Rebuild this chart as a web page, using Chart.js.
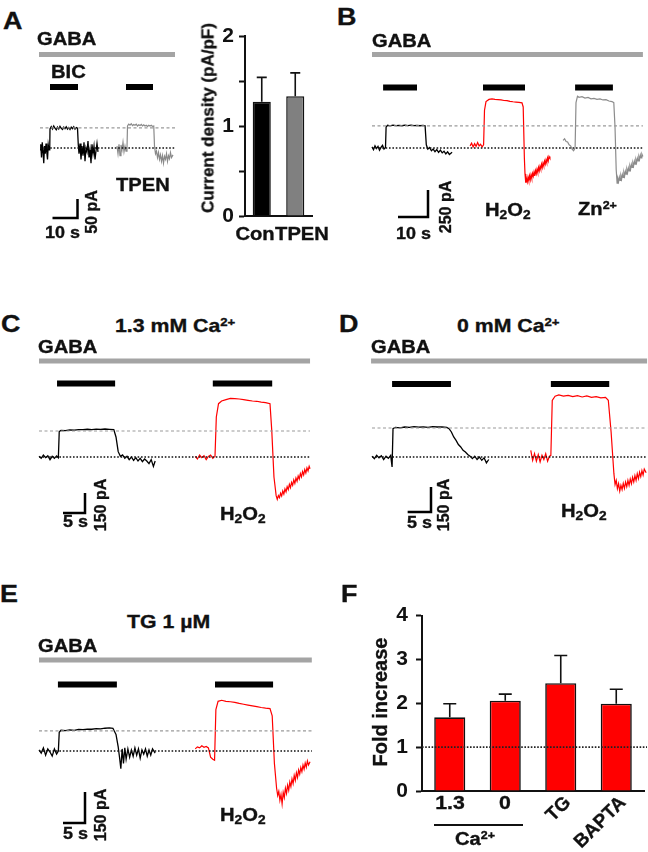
<!DOCTYPE html>
<html><head><meta charset="utf-8">
<script src="https://cdn.jsdelivr.net/npm/chart.js@4.4.1/dist/chart.umd.min.js"></script>
<style>
html,body{margin:0;padding:0;}
body{width:648px;height:852px;position:relative;background:#fff;overflow:hidden;font-family:"Liberation Sans",Arial,sans-serif;font-weight:bold;color:#111;}
canvas{position:absolute;}
.t{position:absolute;white-space:nowrap;line-height:1;color:#111;-webkit-text-stroke:0.35px #111;}
.t sub{font-size:0.68em;vertical-align:-0.28em;line-height:0;}
.t sup{font-size:0.62em;vertical-align:0.55em;line-height:0;}
.hl{position:absolute;background:#111;}
</style></head><body>
<script>
// ================= DATA =================
// Traces: [time (s), current (pA)], baseline = 0
const traceA_con = [[0,-5],[0.3,10],[0.6,-25],[0.9,15],[1.2,-8],[1.5,-40],[1.8,5],[2.1,-15],[2.4,12],[2.7,-10],[3.0,-30],[3.3,8],[3.6,-5],[3.9,0],[4.0,50],[4.5,56],[5,50],[5.5,58],[6,52],[6.5,48],[7,55],[7.5,50],[8,57],[8.5,52],[9,49],[9.5,55],[10,51],[10.5,56],[11,50],[11.5,54],[12,49],[12.5,55],[13,51],[13.5,56],[14,50],[14.5,54],[15,52],[15.3,10],[15.6,-15],[16,12],[16.4,-30],[16.8,5],[17.2,-20],[17.6,15],[18,-35],[18.4,0],[18.8,-10],[19.2,18],[19.6,-25],[20,-5],[20.4,-40],[20.8,10],[21.2,-15],[21.6,5],[22,-30],[22.4,-8],[22.8,12],[23.2,-10]];
const traceA_tpen = [[30.8,5],[31.2,-15],[31.6,10],[32,-20],[32.4,8],[32.8,-5],[33.2,15],[33.6,-10],[34,5],[34.4,-8],[34.8,0],[35,58],[35.5,63],[36,60],[36.5,64],[37,59],[37.5,62],[38,60],[38.5,63],[39,58],[39.5,61],[40,59],[40.5,62],[41,58],[41.5,61],[42,58],[42.5,60],[43,57],[43.5,60],[44,58],[44.5,60],[45,57],[45.5,58],[45.8,5],[46.2,-15],[46.6,-8],[47,-25],[47.4,-12],[47.8,-30],[48.2,-18],[48.6,-35],[49,-20],[49.4,-40],[49.8,-22],[50.2,-30],[50.6,-15],[51,-35],[51.4,-20],[51.8,-28],[52.2,-12],[52.6,-25],[53.2,-18]];
const gabaA = [-0.4, 54];
const bicA = [[4, 15.2], [34.4, 45.2]];
const refA = 53;
const scaleBarA = [10, 50];

const traceB_con = [[0,10],[0.5,-15],[1,20],[1.5,-5],[2,15],[2.5,-20],[3,5],[3.5,25],[4,-10],[4.5,5],[4.7,195],[5.2,210],[6,205],[7,212],[8,207],[9,210],[10,206],[11,211],[12,208],[13,212],[14,207],[15,210],[16,206],[17,209],[17.7,205],[18.1,30],[18.6,-10],[19.2,5],[19.8,-25],[20.4,-10],[21,-35],[21.6,-15],[22.2,-40],[22.8,-20],[23.4,-45],[24,-30],[24.6,-55],[25.2,-35],[25.8,-60],[26.7,-40]];
const traceB_h2o2 = [[32.7,20],[33.2,45],[33.7,10],[34.2,40],[34.7,15],[35.2,50],[35.7,20],[36.2,35],[36.7,10],[37.2,30],[37.5,350],[38,430],[39,450],[40,455],[41,450],[42,448],[43,445],[44,440],[45,438],[46,432],[47,428],[48,425],[49,422],[50,418],[50.4,380],[50.8,-100],[51.0,-240],[51.25,-322],[51.5,-285],[51.75,-315],[52.0,-270],[52.25,-302],[52.5,-258],[52.75,-295],[53.0,-248],[53.25,-280],[53.5,-236],[53.75,-262],[54.0,-222],[54.25,-258],[54.5,-210],[54.75,-238],[55.0,-196],[55.25,-225],[55.5,-180],[55.75,-212],[56.0,-170],[56.25,-195],[56.5,-150],[56.75,-182],[57.0,-140],[57.25,-165],[57.5,-122],[57.75,-150],[58.0,-110],[58.25,-135],[58.5,-92],[58.75,-120],[59.0,-78],[59.3,-95]];
const traceB_zn = [[63.7,70],[64.2,85],[64.7,60],[65.2,55],[65.7,30],[66.2,20],[66.7,-10],[67.2,-25],[67.7,0],[68,420],[68.5,480],[69,470],[70,475],[71,462],[72,468],[73,455],[74,460],[75,450],[76,455],[77,445],[78,448],[79,435],[80,430],[80.6,420],[81,200],[81.4,-200],[81.7,-325],[81.95,-285],[82.2,-312],[82.45,-270],[82.7,-300],[82.95,-258],[83.2,-288],[83.45,-245],[83.7,-272],[83.95,-228],[84.2,-260],[84.45,-215],[84.7,-242],[84.95,-198],[85.2,-228],[85.45,-185],[85.7,-212],[85.95,-168],[86.2,-196],[86.45,-152],[86.7,-180],[86.95,-138],[87.2,-165],[87.45,-122],[87.7,-150],[87.95,-108],[88.2,-135],[88.45,-95],[88.7,-120],[88.95,-80],[89.2,-105],[89.45,-65],[89.7,-92],[89.95,-55],[90.3,-78]];
const gabaB = [0, 90.3];
const drugB = [[3.7, 15], [37, 51], [67.7, 80.3]];
const refB = 204;
const scaleBarB = [10, 250];

const traceC_con = [[0,5],[0.5,-10],[1,15],[1.5,-5],[2,10],[2.5,-20],[3,5],[3.5,-10],[4,8],[4.4,-5],[4.6,190],[5,200],[6,198],[7,203],[8,202],[9,206],[10,205],[11,208],[12,206],[13,209],[14,207],[15,210],[16,208],[17,205],[17.5,150],[18,40],[18.5,5],[19,15],[19.5,-10],[20,5],[20.5,-20],[21,0],[21.5,-25],[22,-5],[22.5,-30],[23,-10],[23.5,-35],[24,-15],[24.5,-30],[25,-50],[25.5,-20],[26,-70],[26.4,-30]];
const traceC_h2o2 = [[35.5,5],[36,-15],[36.5,15],[37,-5],[37.5,10],[38,-20],[38.5,5],[39,15],[39.5,-10],[40,5],[40.3,300],[40.8,400],[41.5,420],[42.5,430],[43.5,440],[44.5,438],[45.5,435],[46.5,430],[47.5,425],[48.5,420],[49.5,418],[50.5,412],[51.5,408],[52.5,400],[52.9,200],[53.4,-150],[53.9,-290],[54.15,-318],[54.4,-290],[54.65,-305],[54.9,-272],[55.15,-292],[55.4,-255],[55.65,-278],[55.9,-240],[56.15,-262],[56.4,-222],[56.65,-245],[56.9,-205],[57.15,-230],[57.4,-190],[57.65,-212],[57.9,-172],[58.15,-198],[58.4,-158],[58.65,-182],[58.9,-142],[59.15,-165],[59.4,-125],[59.65,-150],[59.9,-110],[60.15,-135],[60.4,-95],[60.65,-120],[60.9,-82],[61.15,-105],[61.4,-70],[61.6,-88]];
const gabaC = [0, 61.6];
const drugC = [[4.1, 17.3], [39.5, 53]];
const refC = 195;
const scaleBarC = [5, 150];

const traceD_con = [[0,5],[0.5,-10],[1,10],[1.5,-5],[2,8],[2.5,-15],[3,5],[3.5,-8],[4,10],[4.3,-60],[4.5,170],[5,178],[6,175],[7,180],[8,178],[9,182],[10,179],[11,181],[12,178],[13,182],[14,180],[15,181],[16,178],[16.5,170],[17,150],[17.5,120],[18,100],[18.5,75],[19,60],[19.5,40],[20,30],[20.5,15],[21,5],[21.5,-10],[22,5],[22.5,-15],[23,0],[23.5,-20],[24,-5],[24.5,-35],[25,-15]];
const traceD_h2o2 = [[34,40],[34.4,-20],[34.8,20],[35.2,-25],[35.6,15],[36,-30],[36.4,10],[36.8,-15],[37.2,20],[37.6,-25],[38,5],[38.3,10],[38.6,340],[39.2,365],[40,372],[41,365],[42,370],[43,362],[44,368],[45,360],[46,366],[47,358],[48,362],[49,355],[50,358],[50.6,340],[51.2,150],[51.8,-100],[52.05,-165],[52.3,-140],[52.55,-190],[52.8,-160],[53.05,-205],[53.3,-170],[53.55,-195],[53.8,-158],[54.05,-188],[54.3,-150],[54.55,-178],[54.8,-140],[55.05,-170],[55.3,-132],[55.55,-160],[55.8,-122],[56.05,-150],[56.3,-112],[56.55,-140],[56.8,-100],[57.05,-130],[57.3,-92],[57.55,-118],[57.8,-82],[58.05,-108],[58.3,-72],[58.7,-95]];
const gabaD = [-0.2, 58.9];
const drugD = [[4.3, 16.9], [38.3, 50.8]];
const refD = 174;
const scaleBarD = [5, 150];

const traceE_con = [[0,5],[0.5,-10],[1,15],[1.5,-20],[2,10],[2.5,-5],[3,-25],[3.5,10],[4,-15],[4.4,0],[4.6,90],[5,100],[6,98],[7,102],[8,100],[9,104],[10,103],[11,106],[12,105],[13,108],[14,107],[15,110],[16,112],[16.8,110],[17.5,80],[18,20],[18.3,-30],[18.6,-85],[18.9,10],[19.2,-60],[19.5,15],[19.8,-40],[20.2,10],[20.6,-30],[21,5],[21.4,-25],[21.8,15],[22.2,-20],[22.6,10],[23,-35],[23.4,5],[23.8,-15],[24.2,10],[24.6,-25],[25,5],[25.4,-20],[25.8,10],[26.4,-10]];
const traceE_h2o2 = [[35.5,10],[36,20],[36.5,15],[37,25],[37.5,18],[38,22],[38.5,15],[39,-30],[39.5,-40],[39.9,-45],[40.2,200],[40.7,240],[41.5,245],[42.5,240],[43.5,238],[44.5,235],[45.5,230],[46.5,226],[47.5,222],[48.5,218],[49.5,214],[50.5,210],[51.5,207],[52.5,205],[53,170],[53.5,-60],[54.0,-180],[54.25,-215],[54.5,-195],[54.75,-238],[55.0,-210],[55.25,-255],[55.5,-200],[55.75,-225],[56.0,-180],[56.25,-205],[56.5,-165],[56.75,-190],[57.0,-150],[57.25,-172],[57.5,-135],[57.75,-158],[58.0,-118],[58.25,-142],[58.5,-105],[58.75,-128],[59.0,-92],[59.25,-112],[59.5,-80],[59.75,-100],[60.0,-68],[60.25,-88],[60.5,-58],[60.75,-78],[61.0,-48],[61.25,-68],[61.6,-52]];
const gabaE = [0, 62];
const drugE = [[4.3, 17.7], [40, 53.2]];
const refE = 97;
const scaleBarE = [5, 150];

// Bar charts
const densityLabels = ['Con', 'TPEN'];
const densityMean = [1.27, 1.33];
const densitySem = [0.27, 0.26];

const foldLabels = ['1.3', '0', 'TG', 'BAPTA'];
const foldMean = [1.68, 2.06, 2.46, 1.99];
const foldSem = [0.31, 0.15, 0.63, 0.33];
const foldRef = 1;

// ================= HELPERS =================
Chart.defaults.font.family = "'Liberation Sans', Arial, sans-serif";
Chart.defaults.font.weight = 'bold';
Chart.defaults.color = '#111';

const SX = 1.12;
function addText(html, x, capTop, size, align, sx) {
  sx = (sx === undefined) ? SX : sx;
  const d = document.createElement('div');
  d.className = 't'; d.innerHTML = html;
  d.style.fontSize = size + 'px';
  d.style.top = (capTop - 0.13 * size) + 'px';
  d.style.left = x + 'px';
  if (align === 'center') { d.style.transformOrigin = '50% 0'; d.style.transform = 'translateX(-50%) scaleX(' + sx + ')'; }
  else { d.style.transformOrigin = '0 0'; d.style.transform = 'scaleX(' + sx + ')'; }
  document.body.appendChild(d); return d;
}
function addRot(html, cx, cy, size, deg) {
  const d = document.createElement('div');
  d.className = 't'; d.innerHTML = html;
  d.style.fontSize = size + 'px';
  d.style.left = cx + 'px'; d.style.top = cy + 'px';
  d.style.transformOrigin = '0 0';
  d.style.transform = 'rotate(' + deg + 'deg) translate(-50%,-50%)';
  document.body.appendChild(d); return d;
}
function addRotEnd(html, ex, ey, size, deg) {
  const d = document.createElement('div');
  d.className = 't'; d.innerHTML = html;
  d.style.fontSize = size + 'px';
  d.style.left = ex + 'px'; d.style.top = ey + 'px';
  d.style.transformOrigin = '100% 50%';
  d.style.transform = 'translate(-100%,-50%) rotate(' + deg + 'deg)';
  document.body.appendChild(d); return d;
}
function makeCanvas(left, top, w, h) {
  const cv = document.createElement('canvas');
  cv.width = w; cv.height = h;
  cv.style.left = left + 'px'; cv.style.top = top + 'px';
  cv.style.width = w + 'px'; cv.style.height = h + 'px';
  document.body.appendChild(cv);
  return cv;
}

function tracePanel(p) {
  const cv = makeCanvas(p.left, p.top, p.w, p.h);
  const xmin = (p.left - p.x0) / p.pxs, xmax = (p.left + p.w - p.x0) / p.pxs;
  const ymax = (p.y0 - p.top) / p.pxa, ymin = (p.y0 - p.top - p.h) / p.pxa;
  const r0 = Math.max(0, p.gaba[0]), r1 = p.gaba[1];
  const ds = [];
  ds.push({ data: [{x: r0, y: p.ref}, {x: r1, y: p.ref}], borderColor: '#9a9a9a', borderDash: [3, 2.5], borderWidth: 1.2 });
  ds.push({ data: [{x: r0, y: 0}, {x: r1, y: 0}], borderColor: '#111', borderDash: [1.6, 1.8], borderWidth: 1.6 });
  p.traces.forEach(t => ds.push({ data: t.data.map(v => ({x: v[0], y: v[1]})), borderColor: t.color, borderWidth: t.bw || 1.2 }));
  new Chart(cv, {
    type: 'scatter',
    data: { datasets: ds.map(d => Object.assign({ showLine: true, pointRadius: 0, tension: 0, fill: false }, d)) },
    options: {
      responsive: false, animation: false, devicePixelRatio: 1,
      layout: { padding: 0 },
      plugins: { legend: { display: false }, tooltip: { enabled: false } },
      scales: { x: { type: 'linear', display: false, min: xmin, max: xmax },
                y: { type: 'linear', display: false, min: ymin, max: ymax } }
    },
    plugins: [{
      id: 'marks',
      afterDatasetsDraw(chart) {
        const ctx = chart.ctx, xs = chart.scales.x, ys = chart.scales.y;
        ctx.save();
        ctx.fillStyle = '#a4a4a4';
        const g0 = xs.getPixelForValue(p.gaba[0]), g1 = xs.getPixelForValue(p.gaba[1]);
        ctx.fillRect(g0, p.gabaY - p.top - 2.5, g1 - g0, 5);
        ctx.fillStyle = '#000';
        p.drugs.forEach(iv => {
          const a = xs.getPixelForValue(iv[0]), b = xs.getPixelForValue(iv[1]);
          ctx.fillRect(a, p.drugY - p.top - 3, b - a, 6);
        });
        const cx = p.sbX - p.left, cy = p.sbY - p.top;
        const lx = xs.getPixelForValue(p.scale[0]) - xs.getPixelForValue(0);
        const ly = ys.getPixelForValue(0) - ys.getPixelForValue(p.scale[1]);
        ctx.strokeStyle = '#000'; ctx.lineWidth = 2.5; ctx.lineJoin = 'miter';
        ctx.beginPath(); ctx.moveTo(cx - lx, cy); ctx.lineTo(cx, cy); ctx.lineTo(cx, cy - ly); ctx.stroke();
        ctx.restore();
      }
    }]
  });
}

function errPlugin(mean, sem, cap, refLine) {
  return {
    id: 'err',
    afterDatasetsDraw(chart) {
      const ctx = chart.ctx, ys = chart.scales.y, ca = chart.chartArea;
      const meta = chart.getDatasetMeta(0);
      ctx.save();
      if (refLine !== undefined) {
        ctx.strokeStyle = '#222'; ctx.lineWidth = 1.6; ctx.setLineDash([1.6, 1.6]);
        const yr = ys.getPixelForValue(refLine);
        ctx.beginPath(); ctx.moveTo(ca.left, yr); ctx.lineTo(ca.right + 3, yr); ctx.stroke();
        ctx.setLineDash([]);
      }
      ctx.strokeStyle = '#111'; ctx.lineWidth = 1.6;
      meta.data.forEach((el, i) => {
        const yt = ys.getPixelForValue(mean[i] + sem[i]);
        ctx.beginPath();
        ctx.moveTo(el.x, el.y); ctx.lineTo(el.x, yt);
        ctx.moveTo(el.x - cap / 2, yt); ctx.lineTo(el.x + cap / 2, yt);
        ctx.stroke();
      });
      ctx.restore();
    }
  };
}

// ================= PANEL A traces =================
tracePanel({ left: 30, top: 45, w: 155, h: 180, x0: 40, y0: 148, pxs: 2.5, pxa: 0.38,
  gaba: gabaA, drugs: bicA, ref: refA, scale: scaleBarA,
  gabaY: 54.5, drugY: 87, sbX: 77.5, sbY: 218,
  traces: [{ data: traceA_con, color: '#000', bw: 1.3 }, { data: traceA_tpen, color: '#8a8a8a', bw: 1.2 }] });
addText('A', 3, 12, 24, 'left');
addText('GABA', 37, 32, 18, 'left');
addText('BIC', 51, 65, 18, 'left');
addText('TPEN', 116, 178, 18, 'left');
addText('10 s', 45, 227, 16, 'left');
addRot('50 pA', 92, 212, 16, -90);

// ================= PANEL A bar chart =================
(function () {
  const L = 190, T = 18, W = 130, H = 232;
  const cv = makeCanvas(L, T, W, H);
  const ch = new Chart(cv, {
    type: 'bar',
    data: { labels: densityLabels, datasets: [{ data: densityMean, backgroundColor: ['#000000', '#808080'], borderColor: '#111', borderWidth: 1.5, barPercentage: 0.54, categoryPercentage: 1 }] },
    options: {
      responsive: false, animation: false, devicePixelRatio: 1,
      layout: { padding: { top: 18, right: 8, bottom: 4, left: 0 } },
      plugins: { legend: { display: false }, tooltip: { enabled: false } },
      scales: {
        x: { type: 'category', offset: true, grid: { display: false }, border: { display: true, color: '#111', width: 2 },
             ticks: { display: false }, afterFit: s => { s.height = 30; } },
        y: { min: 0, max: 2, grid: { drawOnChartArea: false, drawTicks: true, tickLength: 6, tickWidth: 2, tickColor: '#111' },
             border: { display: true, color: '#111', width: 2 },
             ticks: { stepSize: 0.5, padding: 5, font: { size: 21, weight: 'bold' }, color: '#111', callback: v => Number.isInteger(v) ? String(v) : '' },
             afterFit: s => { s.width = 55; } }
      }
    },
    plugins: [errPlugin(densityMean, densitySem, 10)]
  });
  const xs = ch.scales.x;
  const off = [-7, 7];
  densityLabels.forEach((lab, i) => addText(lab, L + xs.getPixelForValue(i) + off[i], 227, 18, 'center'));
  addRot('Current density (pA/pF)', 208, 118, 17, -90);
})();

// ================= PANEL B =================
tracePanel({ left: 365, top: 45, w: 283, h: 180, x0: 372, y0: 148, pxs: 3.0, pxa: 0.108,
  gaba: gabaB, drugs: drugB, ref: refB, scale: scaleBarB,
  gabaY: 54.5, drugY: 87.5, sbX: 428, sbY: 217,
  traces: [{ data: traceB_con, color: '#000', bw: 1.3 }, { data: traceB_h2o2, color: '#ff0000', bw: 1.2 }, { data: traceB_zn, color: '#8c8c8c', bw: 1.2 }] });
addText('B', 337, 8, 24, 'left');
addText('GABA', 372, 34, 18, 'left');
addText('H<sub>2</sub>O<sub>2</sub>', 485, 203, 18, 'left');
addText('Zn<sup>2+</sup>', 578, 202, 18, 'left');
addText('10 s', 396, 228, 16, 'left');
addRot('250 pA', 446, 207, 16, -90);

// ================= PANEL C =================
tracePanel({ left: 30, top: 350, w: 285, h: 170, x0: 39, y0: 457, pxs: 4.4, pxa: 0.1333,
  gaba: gabaC, drugs: drugC, ref: refC, scale: scaleBarC,
  gabaY: 361, drugY: 383.5, sbX: 85, sbY: 513,
  traces: [{ data: traceC_con, color: '#000', bw: 1.3 }, { data: traceC_h2o2, color: '#ff0000', bw: 1.2 }] });
addText('C', 1, 315, 24, 'left');
addText('1.3 mM Ca<sup>2+</sup>', 115, 318, 19, 'left');
addText('GABA', 38, 340, 18, 'left');
addText('5 s', 63, 516, 16, 'left');
addRot('150 pA', 101, 505, 16, -90);
addText('H<sub>2</sub>O<sub>2</sub>', 220, 507, 18, 'left');

// ================= PANEL D =================
tracePanel({ left: 362, top: 350, w: 286, h: 170, x0: 372, y0: 457, pxs: 4.67, pxa: 0.1667,
  gaba: gabaD, drugs: drugD, ref: refD, scale: scaleBarD,
  gabaY: 361, drugY: 384, sbX: 431, sbY: 512,
  traces: [{ data: traceD_con, color: '#000', bw: 1.3 }, { data: traceD_h2o2, color: '#ff0000', bw: 1.2 }] });
addText('D', 339, 315, 24, 'left');
addText('0 mM Ca<sup>2+</sup>', 457, 318, 19, 'left');
addText('GABA', 371, 340, 18, 'left');
addText('5 s', 407, 517, 16, 'left');
addRot('150 pA', 444, 505, 16, -90);
addText('H<sub>2</sub>O<sub>2</sub>', 561, 504, 18, 'left');

// ================= PANEL E =================
tracePanel({ left: 30, top: 650, w: 285, h: 180, x0: 39, y0: 751, pxs: 4.4, pxa: 0.207,
  gaba: gabaE, drugs: drugE, ref: refE, scale: scaleBarE,
  gabaY: 660, drugY: 684.5, sbX: 85, sbY: 823,
  traces: [{ data: traceE_con, color: '#000', bw: 1.3 }, { data: traceE_h2o2, color: '#ff0000', bw: 1.2 }] });
addText('E', 0, 585, 24, 'left');
addText('TG 1 µM', 127, 614, 19, 'left');
addText('GABA', 38, 639, 18, 'left');
addText('5 s', 63, 828, 16, 'left');
addRot('150 pA', 101, 815, 16, -90);
addText('H<sub>2</sub>O<sub>2</sub>', 220, 808, 18, 'left');

// ================= PANEL F =================
(function () {
  const L = 330, T = 595, W = 318, H = 257;
  const cv = makeCanvas(L, T, W, H);
  const ch = new Chart(cv, {
    type: 'bar',
    data: { labels: foldLabels, datasets: [{ data: foldMean, backgroundColor: '#ff0000', borderColor: '#111', borderWidth: 1.6, barPercentage: 0.56, categoryPercentage: 1 }] },
    options: {
      responsive: false, animation: false, devicePixelRatio: 1,
      layout: { padding: { top: 17, right: 4, bottom: 0, left: 0 } },
      plugins: { legend: { display: false }, tooltip: { enabled: false } },
      scales: {
        x: { type: 'category', offset: true, grid: { display: false }, border: { display: true, color: '#111', width: 2 },
             ticks: { display: false }, afterFit: s => { s.height = 61; } },
        y: { min: 0, max: 4, grid: { drawOnChartArea: false, drawTicks: true, tickLength: 6, tickWidth: 2, tickColor: '#111' },
             border: { display: true, color: '#111', width: 2 },
             ticks: { stepSize: 1, padding: 8, font: { size: 21, weight: 'bold' }, color: '#111' },
             afterFit: s => { s.width = 92; } }
      }
    },
    plugins: [errPlugin(foldMean, foldSem, 13, foldRef)]
  });
  const xs = ch.scales.x;
  const px = foldLabels.map((_, i) => L + xs.getPixelForValue(i));
  foldLabels.forEach((lab, i) => {
    if (i < 2) addText(lab, px[i], 795, 19, 'center');
    else addRotEnd(lab, px[i] + 6, 799, 19, -45);
  });
  const ul = document.createElement('div');
  ul.className = 'hl';
  ul.style.left = (px[0] - 16) + 'px'; ul.style.width = (px[1] - px[0] + 34) + 'px';
  ul.style.top = '824px'; ul.style.height = '1.5px';
  document.body.appendChild(ul);
  addText('Ca<sup>2+</sup>', (px[0] + px[1]) / 2 - 3, 832, 18, 'center');
  addRot('Fold increase', 380, 702, 20, -90);
})();
addText('F', 341, 585, 24, 'left');
</script>
</body></html>
